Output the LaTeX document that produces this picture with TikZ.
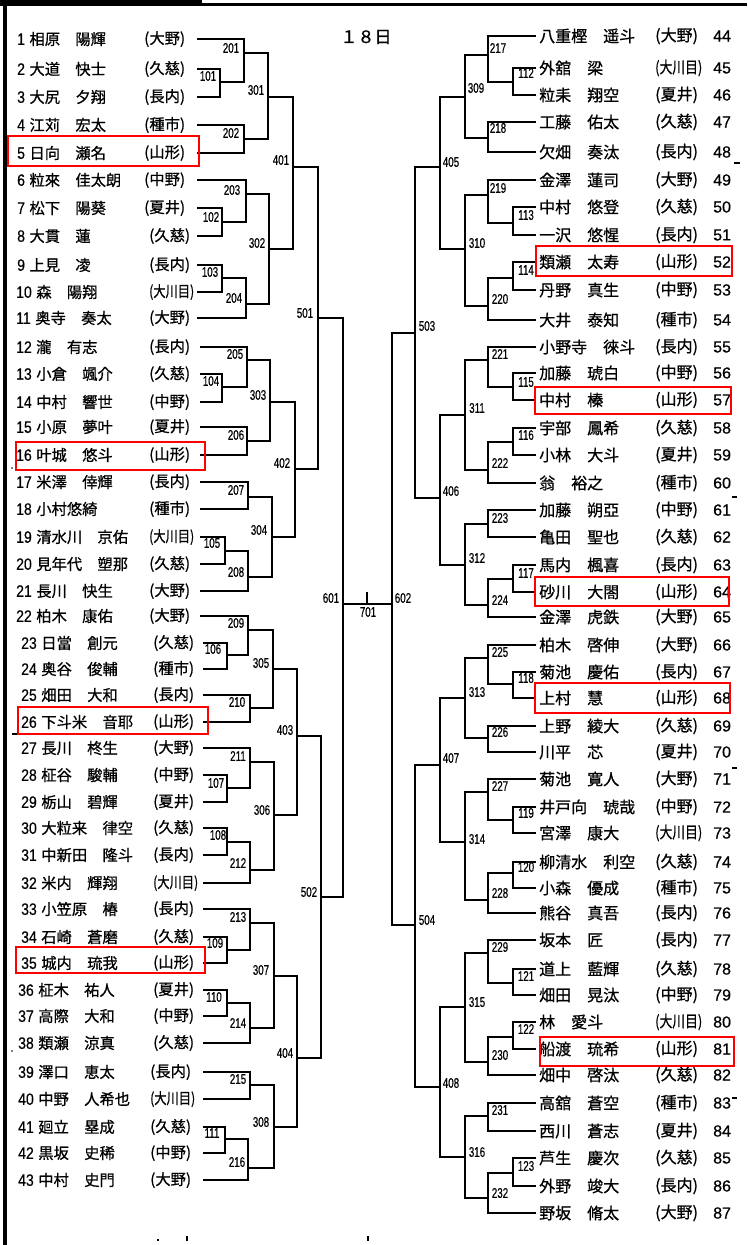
\documentclass[tikz,border=0pt]{standalone}
\usepackage{fontspec}
\usepackage{graphicx}
\setmainfont{Noto Sans CJK JP}[FakeBold=0.7]
\newfontfamily\latinf{Liberation Sans}[FakeBold=0.5]
\newcommand\lnum[1]{{\latinf\fontsize{16.5}{16.5}\selectfont\scalebox{0.85}[1]{#1}}}
\newcommand\lb[1]{{\latinf\fontsize{14}{14}\selectfont\scalebox{0.7}[1]{#1}}}
\newcommand\okw{\scalebox{0.8}[1]{(大川目)}}
\tikzset{
  br/.style={line width=1.5pt, line join=miter},
  lname/.style={anchor=west, inner sep=0pt, font=\fontsize{15.3}{15.3}\selectfont},
  rname/.style={anchor=west, inner sep=0pt, font=\fontsize{16}{16}\selectfont},
  rnum/.style={anchor=west, inner sep=0pt, font=\latinf\fontsize{16}{16}\selectfont},
  lab/.style={inner sep=0pt},
  redbox/.style={draw=red, line width=1.3pt},
  speck/.style={line width=1.2pt}
}
% left player: num, y, numx, schoolx, linex, name, school
\newcommand\LP[7]{\node[lname] (n#1) at (#3,#2) {\lnum{#1}\hspace{4.5pt}#6};
  \node[lname] (s#1) at (#4,#2) {#7};
  \coordinate (p#1) at (#5,#2);}
% right player: num, y, name, school
\newcommand\RP[4]{\node[rname] (n#1) at (539,#2) {#3};
  \node[rname] (s#1) at (655,#2) {#4};
  \node[rnum] (r#1) at (713,#2) {#1};
  \coordinate (p#1) at (536,#2);}
% match: id, x, y, top, bottom, labx, laby
\newcommand\M[7]{\coordinate (m#1) at (#2,#3);
  \draw[br] (#4) -| (m#1) |- (#5);
  \node[lab] (l#1) at (#6,#7) {\lb{#1}};}
\begin{document}
\begin{tikzpicture}[x=1pt,y=-1pt]
\useasboundingbox (0,0) rectangle (747,1245);
\fill[white] (0,0) rectangle (747,1245);
% frame
\fill[black] (0,0) rectangle (202,6);
\draw[line width=3pt] (202,4) -- (747,4);
\draw[line width=3.5pt] (5,0) -- (5,1245);
\node (title) at (366,37) {\fontsize{17}{17}\selectfont １８日};
% left players
\LP{1}{39}{17}{144}{197}{相原　陽輝}{(大野)}
\LP{2}{69}{17}{144}{197}{大道　快士}{(久慈)}
\LP{3}{97}{17}{144}{197}{大尻　夕翔}{(長内)}
\LP{4}{125}{17}{144}{197}{江苅　宏太}{(種市)}
\LP{5}{153}{17}{144}{197}{日向　瀬名}{(山形)}
\LP{6}{180}{17}{144}{197}{粒來　佳太朗}{(中野)}
\LP{7}{208}{17}{144}{197}{松下　陽葵}{(夏井)}
\LP{8}{236}{17}{149}{197}{大貫　蓮}{(久慈)}
\LP{9}{265}{17}{149}{197}{上見　凌}{(長内)}
\LP{10}{292}{16}{149}{197}{森　陽翔}{\okw}
\LP{11}{318}{16}{149}{197}{奥寺　奏太}{(大野)}
\LP{12}{347}{16}{149}{200}{瀧　有志}{(長内)}
\LP{13}{374}{16}{149}{200}{小倉　颯介}{(久慈)}
\LP{14}{402}{16}{149}{200}{中村　響世}{(中野)}
\LP{15}{427}{16}{149}{200}{小原　夢叶}{(夏井)}
\LP{16}{455}{16}{149}{200}{叶城　悠斗}{(山形)}
\LP{17}{482}{16}{149}{200}{米澤　倖輝}{(長内)}
\LP{18}{509}{16}{149}{200}{小村悠綺}{(種市)}
\LP{19}{537}{16}{149}{200}{清水川　京佑}{\okw}
\LP{20}{564}{16}{149}{200}{見年代　塑那}{(久慈)}
\LP{21}{591}{16}{149}{200}{長川　快生}{(大野)}
\LP{22}{616}{16}{149}{200}{柏木　康佑}{(大野)}
\LP{23}{643}{21}{153}{203}{日當　創元}{(久慈)}
\LP{24}{669}{21}{153}{203}{奥谷　俊輔}{(種市)}
\LP{25}{695}{21}{153}{203}{畑田　大和}{(長内)}
\LP{26}{722}{21}{153}{203}{下斗米　音耶}{(山形)}
\LP{27}{748}{21}{153}{203}{長川　柊生}{(大野)}
\LP{28}{775}{21}{153}{203}{柾谷　駿輔}{(中野)}
\LP{29}{802}{21}{153}{203}{栃山　碧輝}{(夏井)}
\LP{30}{828}{21}{153}{203}{大粒来　律空}{(久慈)}
\LP{31}{855}{21}{153}{203}{中新田　隆斗}{(長内)}
\LP{32}{883}{21}{153}{203}{米内　輝翔}{\okw}
\LP{33}{909}{21}{153}{203}{小笠原　椿}{(長内)}
\LP{34}{937}{21}{153}{203}{石崎　蒼磨}{(久慈)}
\LP{35}{963}{21}{153}{203}{城内　琉我}{(山形)}
\LP{36}{990}{18}{153}{203}{柾木　祐人}{(夏井)}
\LP{37}{1016}{18}{153}{203}{高際　大和}{(中野)}
\LP{38}{1043}{18}{153}{203}{類瀬　涼真}{(久慈)}
\LP{39}{1072}{18}{150}{203}{澤口　恵太}{(長内)}
\LP{40}{1099}{18}{150}{203}{中野　人希也}{\okw}
\LP{41}{1127}{18}{150}{203}{廻立　塁成}{(久慈)}
\LP{42}{1153}{18}{150}{203}{黒坂　史稀}{(中野)}
\LP{43}{1180}{18}{150}{203}{中村　史門}{(大野)}
% right players
\RP{44}{36}{八重樫　遥斗}{(大野)}
\RP{45}{68}{外舘　梁}{\okw}
\RP{46}{95}{粒耒　翔空}{(夏井)}
\RP{47}{122}{工藤　佑太}{(久慈)}
\RP{48}{152}{欠畑　奏汰}{(長内)}
\RP{49}{180}{金澤　蓮司}{(大野)}
\RP{50}{207}{中村　悠登}{(久慈)}
\RP{51}{235}{一沢　悠惺}{(長内)}
\RP{52}{262}{類瀬　太寿}{(山形)}
\RP{53}{290}{丹野　真生}{(中野)}
\RP{54}{320}{大井　泰知}{(種市)}
\RP{55}{347}{小野寺　徠斗}{(長内)}
\RP{56}{373}{加藤　琥白}{(中野)}
\RP{57}{400}{中村　榛}{(山形)}
\RP{58}{428}{宇部　鳳希}{(久慈)}
\RP{59}{455}{小林　大斗}{(夏井)}
\RP{60}{483}{翁　裕之}{(種市)}
\RP{61}{510}{加藤　朔亞}{(中野)}
\RP{62}{537}{亀田　聖也}{(久慈)}
\RP{63}{565}{馬内　楓喜}{(長内)}
\RP{64}{592}{砂川　大閤}{(山形)}
\RP{65}{617}{金澤　虎鉄}{(大野)}
\RP{66}{645}{柏木　啓伸}{(大野)}
\RP{67}{672}{菊池　慶佑}{(長内)}
\RP{68}{698}{上村　慧}{(山形)}
\RP{69}{726}{上野　綾大}{(久慈)}
\RP{70}{752}{川平　芯}{(夏井)}
\RP{71}{779}{菊池　寛人}{(大野)}
\RP{72}{807}{井戸向　琥哉}{(中野)}
\RP{73}{833}{宮澤　康大}{\okw}
\RP{74}{862}{柳清水　利空}{(久慈)}
\RP{75}{888}{小森　優成}{(種市)}
\RP{76}{913}{熊谷　真吾}{(長内)}
\RP{77}{940}{坂本　匠}{(長内)}
\RP{78}{969}{道上　藍輝}{(久慈)}
\RP{79}{995}{畑田　晃汰}{(中野)}
\RP{80}{1022}{林　愛斗}{\okw}
\RP{81}{1049}{船渡　琉希}{(山形)}
\RP{82}{1075}{畑中　啓汰}{(久慈)}
\RP{83}{1103}{高舘　蒼空}{(種市)}
\RP{84}{1131}{西川　蒼志}{(夏井)}
\RP{85}{1158}{芦生　慶次}{(久慈)}
\RP{86}{1186}{外野　竣大}{(長内)}
\RP{87}{1213}{野坂　脩太}{(大野)}
% left bracket
\M{101}{220}{82}{p2}{p3}{208}{76}
\M{102}{222}{222}{p7}{p8}{211}{217}
\M{103}{222}{278}{p9}{p10}{210}{272}
\M{104}{222}{387}{p13}{p14}{211}{381}
\M{105}{225}{551}{p19}{p20}{212}{543}
\M{106}{227}{655}{p23}{p24}{213}{649}
\M{107}{227}{788}{p28}{p29}{216}{783}
\M{108}{227}{842}{p30}{p31}{218}{835}
\M{109}{227}{950}{p34}{p35}{215}{943}
\M{110}{227}{1003}{p36}{p37}{214}{997}
\M{111}{225}{1139}{p41}{p42}{212}{1133}
\M{201}{244}{53}{p1}{m101}{231}{48}
\M{202}{244}{139}{p4}{p5}{231}{133}
\M{203}{246}{194}{p6}{m102}{232}{190}
\M{204}{246}{304}{m103}{p11}{234}{298}
\M{205}{247}{360}{p12}{m104}{235}{354}
\M{206}{247}{441}{p15}{p16}{236}{435}
\M{207}{248}{497}{p17}{p18}{236}{490}
\M{208}{248}{577}{m105}{p21}{236}{572}
\M{209}{248}{630}{p22}{m106}{236}{623}
\M{210}{250}{708}{p25}{p26}{237}{702}
\M{211}{250}{762}{p27}{m107}{238}{756}
\M{212}{250}{870}{m108}{p32}{238}{863}
\M{213}{250}{923}{p33}{m109}{238}{917}
\M{214}{250}{1028}{m110}{p38}{238}{1023}
\M{215}{250}{1085}{p39}{p40}{238}{1079}
\M{216}{248}{1168}{m111}{p43}{237}{1162}
\M{301}{268}{97}{m201}{m202}{256}{90}
\M{302}{269}{249}{m203}{m204}{257}{243}
\M{303}{270}{402}{m205}{m206}{258}{395}
\M{304}{272}{537}{m207}{m208}{259}{530}
\M{305}{273}{669}{m209}{m210}{261}{663}
\M{306}{274}{815}{m211}{m212}{262}{810}
\M{307}{274}{976}{m213}{m214}{261}{970}
\M{308}{274}{1127}{m215}{m216}{261}{1122}
\M{401}{293}{167}{m301}{m302}{281}{160}
\M{402}{295}{469}{m303}{m304}{282}{463}
\M{403}{297}{736}{m305}{m306}{285}{730}
\M{404}{297}{1058}{m307}{m308}{285}{1053}
\M{501}{318}{318}{m401}{m402}{305}{313}
\M{502}{321}{897}{m403}{m404}{309}{892}
\M{601}{343}{604}{m501}{m502}{331}{598}
% right bracket
\M{112}{513}{82}{p45}{p46}{526}{73}
\M{113}{513}{223}{p50}{p51}{526}{215}
\M{114}{513}{278}{p52}{p53}{526}{270}
\M{115}{513}{387}{p56}{p57}{526}{382}
\M{116}{513}{442}{p58}{p59}{526}{435}
\M{117}{513}{579}{p63}{p64}{526}{573}
\M{118}{513}{684}{p67}{p68}{526}{678}
\M{119}{513}{820}{p72}{p73}{526}{813}
\M{120}{513}{873}{p74}{p75}{526}{867}
\M{121}{513}{983}{p78}{p79}{526}{976}
\M{122}{513}{1037}{p80}{p81}{526}{1029}
\M{123}{513}{1173}{p85}{p86}{526}{1166}
\M{217}{488}{55}{p44}{m112}{498}{48}
\M{218}{488}{138}{p47}{p48}{498}{128}
\M{219}{488}{195}{p49}{m113}{498}{188}
\M{220}{488}{306}{m114}{p54}{500}{299}
\M{221}{488}{360}{p55}{m115}{500}{354}
\M{222}{488}{470}{m116}{p60}{500}{463}
\M{223}{488}{524}{p61}{p62}{500}{518}
\M{224}{488}{605}{m117}{p65}{500}{600}
\M{225}{488}{658}{p66}{m118}{500}{652}
\M{226}{488}{738}{p69}{p70}{500}{732}
\M{227}{488}{792}{p71}{m119}{500}{786}
\M{228}{488}{900}{m120}{p76}{500}{893}
\M{229}{488}{953}{p77}{m121}{500}{947}
\M{230}{488}{1062}{m122}{p82}{500}{1055}
\M{231}{488}{1116}{p83}{p84}{500}{1110}
\M{232}{488}{1198}{m123}{p87}{500}{1193}
\M{309}{465}{97}{m217}{m218}{476}{88}
\M{310}{465}{249}{m219}{m220}{477}{243}
\M{311}{465}{415}{m221}{m222}{477}{408}
\M{312}{465}{565}{m223}{m224}{477}{558}
\M{313}{465}{698}{m225}{m226}{477}{692}
\M{314}{465}{842}{m227}{m228}{477}{839}
\M{315}{465}{1007}{m229}{m230}{477}{1002}
\M{316}{465}{1157}{m231}{m232}{477}{1152}
\M{405}{440}{167}{m309}{m310}{451}{162}
\M{406}{440}{498}{m311}{m312}{451}{491}
\M{407}{440}{765}{m313}{m314}{451}{758}
\M{408}{440}{1087}{m315}{m316}{451}{1083}
\M{503}{415}{333}{m405}{m406}{427}{326}
\M{504}{415}{925}{m407}{m408}{427}{920}
\M{602}{392}{604}{m503}{m504}{403}{598}
% final
\draw[br] (m601) -- (m602);
\coordinate (t701) at (367,604);
\coordinate (t701b) at (367,592);
\draw[line width=1.2pt] (t701) -- (t701b);
\node[lab] (l701) at (368,612) {\lb{701}};
% highlight boxes
\draw[redbox] (8,136) rectangle (199,166);
\draw[redbox] (16,442) rectangle (205,470);
\draw[redbox] (18,707) rectangle (208,734);
\draw[redbox] (16,947) rectangle (205,973);
\draw[redbox] (536,246) rectangle (732,276);
\draw[redbox] (535,387) rectangle (731,414);
\draw[redbox] (535,577) rectangle (729,606);
\draw[redbox] (535,683) rectangle (730,713);
\draw[redbox] (540,1037) rectangle (734,1066);
% scan specks
\draw[speck] (12,734) -- (17,734);
\fill (12,468) circle (0.8pt);
\fill (12,1051) circle (0.8pt);
\draw[speck] (734,163) -- (740,163);
\draw[speck] (732,497) -- (737,497);
\draw[speck] (732,768) -- (737,768);
\draw[speck] (732,1098) -- (737,1098);
\draw[speck] (157,1240) -- (159,1240);
\draw[speck] (187,1236) -- (187,1241);
\draw[speck] (368,1236) -- (368,1241);
\end{tikzpicture}
\end{document}
